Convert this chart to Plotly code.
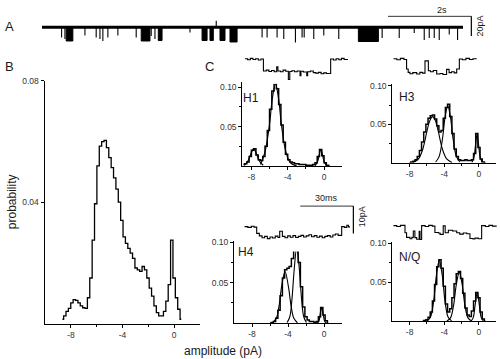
import plotly.graph_objects as go

W, H = 500, 359

# ---------------- DATA ----------------
# Panel A: 10 s recording; current in pA relative to closed level (negative = opening)
a_duration_s = 10.1
a_single_t = [0.47, 0.55, 1.03, 1.30, 1.39, 1.46, 1.58, 1.82, 2.26, 2.62, 2.71, 3.55, 4.18, 5.28, 5.40,
              5.64, 5.80, 6.08, 6.24, 6.29, 6.52, 6.76, 7.12, 8.16, 8.57, 8.93, 9.17, 9.29, 9.41, 9.53,
              9.77, 9.97]
a_single_amp = [-10.5, -12, -8.5, -10.5, -12, -14, -10.5, -8.5, -10.5, -9, -12, -5.5, 6.5, -10.5, -10.5,
                -10.5, -12, -15.5, -10.5, -10.5, -12, -8.5, -12, -11, -11, -6, -13, -11, -11, -13,
                -7.5, -13]
a_burst_start = [0.58, 2.38, 2.79, 3.84, 4.03, 4.27, 4.51, 7.59]
a_burst_end = [0.74, 2.59, 2.88, 3.96, 4.11, 4.39, 4.68, 8.07]
a_burst_amp = [-14, -14, -13.5, -13.5, -13.5, -13.5, -15, -14.5]

# Panel B: amplitude histogram
b_bin_first = -8.65
b_bin_width = 0.184
b_prob = [0.0014, 0.0025, 0.004, 0.005, 0.0068, 0.0079, 0.0076, 0.0068, 0.0058, 0.0052,
          0.005, 0.0085, 0.015, 0.0275, 0.0395, 0.052, 0.0585, 0.060, 0.0604, 0.058,
          0.0547, 0.0514, 0.048, 0.0443, 0.040, 0.034, 0.0286, 0.0264, 0.0248, 0.0232,
          0.0215, 0.0183, 0.0177, 0.0172, 0.0188, 0.0177, 0.015, 0.0117, 0.009, 0.0058,
          0.0036, 0.0025, 0.0025, 0.004, 0.0074, 0.0128, 0.0275, 0.015, 0.0085, 0.0047,
          0.0014]

# Panel C histograms (bin width 0.25 pA)
h1_bin_first = -8.875
h1_prob = [0.002, 0.003, 0.005, 0.012, 0.020, 0.022, 0.014, 0.008, 0.007, 0.012,
           0.025, 0.045, 0.072, 0.095, 0.106, 0.098, 0.078, 0.052, 0.030, 0.015,
           0.008, 0.005, 0.004, 0.003, 0.003, 0.002, 0.002, 0.002, 0.001, 0.001,
           0.001, 0.002, 0.004, 0.012, 0.021, 0.013, 0.004, 0.001, 0.0]
h3_bin_first = -8.0
h3_prob = [0.0, 0.001, 0.002, 0.004, 0.008, 0.016, 0.027, 0.040, 0.050, 0.058,
           0.061, 0.062, 0.057, 0.048, 0.040, 0.042, 0.058, 0.072, 0.076, 0.060,
           0.038, 0.018, 0.008, 0.004, 0.003, 0.003, 0.004, 0.003, 0.003, 0.004,
           0.012, 0.038, 0.020, 0.005, 0.001, 0.0]
h4_bin_first = -6.0
h4_prob = [0.0, 0.001, 0.002, 0.006, 0.016, 0.034, 0.056, 0.066, 0.068, 0.070,
           0.080, 0.092, 0.097, 0.075, 0.045, 0.020, 0.008, 0.004, 0.002, 0.002,
           0.001, 0.002, 0.008, 0.0195, 0.010, 0.003, 0.0]
nq_bin_first = -6.5
nq_prob = [0.0, 0.001, 0.002, 0.005, 0.012, 0.026, 0.047, 0.070, 0.079, 0.068,
           0.045, 0.022, 0.012, 0.016, 0.030, 0.048, 0.061, 0.064, 0.055, 0.036,
           0.017, 0.008, 0.006, 0.013, 0.026, 0.037, 0.030, 0.012, 0.003, 0.0]
c_bin_width = 0.25

# Fitted components
h1_fit_x = [[-8.8, -8.4, -8.0, -7.75, -7.5, -7.1, -6.7],
            [-7.0, -6.5, -6.0, -5.7, -5.35, -5.0, -4.7, -4.2, -3.7, -3.0],
            [-1.0, -0.7, -0.5, -0.35, -0.2, 0.0, 0.3]]
h1_fit_y = [[0.001, 0.006, 0.017, 0.022, 0.017, 0.006, 0.001],
            [0.002, 0.018, 0.053, 0.085, 0.104, 0.085, 0.053, 0.018, 0.004, 0.0],
            [0.0, 0.006, 0.016, 0.021, 0.016, 0.006, 0.0]]
h3_fit_x = [[-7.6, -7.0, -6.5, -6.0, -5.7, -5.35, -5.0, -4.7, -4.2, -3.7, -3.1],
            [-5.0, -4.6, -4.2, -3.9, -3.6, -3.3, -3.0, -2.6, -2.2],
            [-0.8, -0.55, -0.38, -0.22, -0.06, 0.11, 0.36]]
h3_fit_y = [[0.0005, 0.0046, 0.017, 0.041, 0.054, 0.060, 0.054, 0.041, 0.017, 0.0046, 0.0005],
            [0.001, 0.008, 0.032, 0.060, 0.074, 0.060, 0.032, 0.008, 0.001],
            [0.0005, 0.009, 0.025, 0.037, 0.025, 0.009, 0.0005]]
h4_fit_x = [[-5.7, -5.3, -5.0, -4.7, -4.33, -3.95, -3.65, -3.35, -2.95],
            [-4.1, -3.8, -3.55, -3.3, -3.03, -2.75, -2.5, -2.25, -1.95],
            [-0.75, -0.55, -0.4, -0.26, -0.1, 0.05, 0.25]]
h4_fit_y = [[0.0006, 0.006, 0.021, 0.046, 0.064, 0.045, 0.021, 0.006, 0.0006],
            [0.0008, 0.008, 0.031, 0.068, 0.094, 0.068, 0.031, 0.008, 0.0008],
            [0.0002, 0.003, 0.013, 0.019, 0.012, 0.003, 0.0002]]
nq_fit_x = [[-6.0, -5.6, -5.25, -4.9, -4.58, -4.25, -3.9, -3.55, -3.15],
            [-3.7, -3.3, -2.95, -2.6, -2.27, -1.95, -1.6, -1.25, -0.85],
            [-0.9, -0.65, -0.45, -0.2, 0.05, 0.25, 0.5]]
nq_fit_y = [[0.0004, 0.005, 0.024, 0.060, 0.078, 0.060, 0.024, 0.005, 0.0004],
            [0.0003, 0.004, 0.019, 0.048, 0.063, 0.048, 0.019, 0.004, 0.0003],
            [0.0003, 0.005, 0.020, 0.037, 0.020, 0.005, 0.0003]]

# Example sweeps above each histogram (time ms, current pA)
h1_trace_ms = [0, 1.5, 3, 4.5, 6, 7.5, 9, 10.4, 12, 13.5, 15, 16.5, 17.9, 18.6, 20, 21.5, 23, 24.5, 25.3,
               26.5, 28, 29.5, 31.1, 31.6, 33, 34.9, 35.4, 37, 38.6, 40, 41.5, 43, 44.5, 46, 48.4, 50,
               51.5, 53, 54.5, 56, 58.2]
h1_trace_pa = [0.2, -0.2, 0.3, -0.1, 0.2, -0.3, 0.1, -4.3, -4.0, -4.5, -4.1, -4.6, -2.8, -4.3, -4.6, -4.0,
               -4.4, -7.4, -4.5, -4.2, -4.6, -4.3, -6.0, -4.4, -4.7, -6.0, -4.6, -4.3, -4.9, -5.1, -4.8,
               -5.3, -5.0, -5.2, 0.1, -0.3, 0.2, -0.2, 0.3, -0.1, 0.1]
h3_trace_ms = [0, 2, 4, 6, 7.5, 8.4, 9.4, 11, 13.2, 15, 16.5, 17.9, 19.8, 21, 22.6, 24.5, 26.4, 28, 30.1,
               31.5, 32.9, 34.4, 35.8, 37.3, 39, 41, 43, 45, 47.1]
h3_trace_pa = [0.2, -0.2, 0.3, -0.1, -3.6, -4.8, -5.3, -4.9, -5.4, -4.8, -5.1, -0.6, -4.2, -4.6, -4.1,
               -5.4, -5.2, -5.6, -3.7, -4.9, -4.6, -5.0, -3.6, 0.1, -0.2, 0.3, -0.1, 0.2, 0.0]
h4_trace_ms = [0, 2, 4, 5.5, 7, 8.5, 10, 11.5, 13, 14.5, 16, 17.5, 19, 20, 21.5, 23, 24.5, 26, 27.5, 29,
               30.5, 32, 33.5, 35, 36.5, 38, 39.5, 41, 42.5, 44, 45.5, 47, 48.5, 50, 51.5, 53, 55, 56.5,
               57.9, 58.8, 59.7]
h4_trace_pa = [0.1, -0.2, 0.2, -0.1, -2.4, -3.3, -4.0, -3.5, -4.3, -3.7, -4.1, -3.4, -3.9, -1.6, -3.5,
               -4.0, -3.3, -3.8, -3.2, -3.9, -3.5, -3.1, -3.7, -3.3, -2.9, -3.6, -3.2, -3.8, -3.4, -4.0,
               -3.5, -3.2, -3.7, -3.0, -2.6, -3.1, 0.1, -0.2, 0.6, 0.0, 0.1]
nq_trace_ms = [0, 2, 4, 6.6, 7.5, 9.4, 10.5, 11.3, 12.2, 13.2, 14.6, 15.1, 16, 18, 20, 22, 23.5, 25.5,
               26.4, 28.2, 29.3, 31.1, 33.5, 35.8, 37.5, 39.5, 41.5, 43.3, 45, 46.1, 48, 49.9, 52, 54,
               56, 58.4]
nq_trace_pa = [0.1, -0.2, 0.2, -2.5, -4.2, -4.7, -4.2, -1.9, -4.3, -4.9, -2.0, -5.0, 0.1, -0.2, 0.2,
               -0.1, -2.4, -2.6, -3.1, 0.0, -2.5, -1.6, -1.9, -2.5, -3.0, -2.6, -2.9, -4.6, -4.8, -4.5,
               -4.7, 0.1, -0.2, 0.2, -0.1, 0.1]

x_tick_vals = [-8, -4, 0]
x_tick_text = ["-8", "-4", "0"]

# ---------------- LAYOUT HELPERS ----------------
FONT = "Liberation Sans, Arial, sans-serif"


def dom_x(left, right):
    return [left / W, right / W]


def dom_y(top, bottom):
    return [1 - bottom / H, 1 - top / H]


axes = {}
ranges = {}


def add_axes(i, xl, xr, yt, yb, xrng, yrng, visible):
    xs = "xaxis" if i == 1 else f"xaxis{i}"
    ys = "yaxis" if i == 1 else f"yaxis{i}"
    xa = dict(domain=dom_x(xl, xr), range=xrng, anchor="y" if i == 1 else f"y{i}",
              showgrid=False, zeroline=False, fixedrange=True)
    ya = dict(domain=dom_y(yt, yb), range=yrng, anchor="x" if i == 1 else f"x{i}",
              showgrid=False, zeroline=False, fixedrange=True)
    if visible:
        common = dict(showline=True, linecolor="black", linewidth=1, ticks="outside",
                      ticklen=3, tickwidth=1, tickcolor="black",
                      tickfont=dict(family=FONT, size=8.5, color="#333"))
        xa.update(common, tickvals=x_tick_vals, ticktext=x_tick_text,
                  minor=dict(tickvals=[-6, -2], ticks="outside", ticklen=2, tickcolor="black"))
        ya.update(common)
    else:
        xa.update(visible=False)
        ya.update(visible=False)
    axes[xs] = xa
    axes[ys] = ya
    ranges[i] = (xl, xr, yt, yb, xrng, yrng)


def to_px(i, xv, yv):
    xl, xr, yt, yb, xrng, yrng = ranges[i]
    px = xl + (xv - xrng[0]) / (xrng[1] - xrng[0]) * (xr - xl)
    py = yb - (yv - yrng[0]) / (yrng[1] - yrng[0]) * (yb - yt)
    return px, py


# 1: panel A recording
add_axes(1, 42, 463, 14, 40, [0, a_duration_s], [-17.5, 8.5], False)
# 2: panel B histogram
add_axes(2, 45, 200, 77, 323, [-10, 2], [0, 0.08], True)
# 3-6: C histograms
add_axes(3, 242.3, 342.2, 163.3 - 0.107 * 800, 163.3, [-9, 2], [0, 0.107], True)
add_axes(4, 392.3, 496.3, 160 - 0.102 * 780, 160, [-10, 2], [0, 0.102], True)
add_axes(5, 234, 342, 322.7 - 0.102 * 820, 322.7, [-10, 2], [0, 0.102], True)
add_axes(6, 392.3, 496.3, 320.7 - 0.102 * 790, 320.7, [-10, 2], [0, 0.102], True)
# 7-10: example sweeps (1.77 px/ms, 2.77 px/pA)
add_axes(7, 245, 348, 48, 80, [0, 58.2], [-25 / 2.77, 7 / 2.77], False)
add_axes(8, 393.3, 476.7, 48, 80, [0, 47.1], [-25 / 2.77, 7 / 2.77], False)
add_axes(9, 244.3, 350, 218, 250, [0, 59.7], [-25 / 2.77, 7 / 2.77], False)
add_axes(10, 393.3, 496.7, 217, 249, [0, 58.4], [-25 / 2.77, 7 / 2.77], False)

# y tick setup
axes["yaxis2"].update(tickvals=[0.04, 0.08], ticktext=["0.04", "0.08"], linewidth=1.5)
for k in ["yaxis3", "yaxis4", "yaxis5", "yaxis6"]:
    axes[k].update(tickvals=[0.05, 0.10], ticktext=["0.05", "0.10"],
                   minor=dict(tickvals=[0.025, 0.075], ticks="outside", ticklen=2, tickcolor="black"))

fig = go.Figure()


def xy(i):
    return ("x", "y") if i == 1 else (f"x{i}", f"y{i}")


# ---- Panel A ----
xa, ya = xy(1)
fig.add_trace(go.Scatter(x=[0, a_duration_s], y=[0, 0], mode="lines",
                         line=dict(color="black", width=3), xaxis=xa, yaxis=ya, hoverinfo="skip"))
sx, sy = [], []
for t, a in zip(a_single_t, a_single_amp):
    sx += [t, t, None]
    sy += [0, a, None]
fig.add_trace(go.Scatter(x=sx, y=sy, mode="lines", line=dict(color="black", width=1.1),
                         xaxis=xa, yaxis=ya, hoverinfo="skip"))
bx, by = [], []
for s, e, a in zip(a_burst_start, a_burst_end, a_burst_amp):
    bx += [s, s, e, e, s, None]
    by += [0, a, a, 0, 0, None]
fig.add_trace(go.Scatter(x=bx, y=by, mode="lines", fill="toself", fillcolor="black",
                         line=dict(color="black", width=1), xaxis=xa, yaxis=ya, hoverinfo="skip"))

# ---- Panel B ----
b_centers = [b_bin_first + b_bin_width * k for k in range(len(b_prob))]
xa, ya = xy(2)
fig.add_trace(go.Scatter(x=b_centers, y=b_prob, mode="lines",
                         line=dict(color="black", width=1.3, shape="hvh"),
                         xaxis=xa, yaxis=ya, hoverinfo="skip"))

# ---- Panel C histograms ----
for i, first, prob, fx, fy in [(3, h1_bin_first, h1_prob, h1_fit_x, h1_fit_y),
                               (4, h3_bin_first, h3_prob, h3_fit_x, h3_fit_y),
                               (5, h4_bin_first, h4_prob, h4_fit_x, h4_fit_y),
                               (6, nq_bin_first, nq_prob, nq_fit_x, nq_fit_y)]:
    xa, ya = xy(i)
    centers = [first + c_bin_width * k for k in range(len(prob))]
    fig.add_trace(go.Scatter(x=centers, y=prob, mode="lines",
                             line=dict(color="black", width=1.5, shape="hvh"),
                             xaxis=xa, yaxis=ya, hoverinfo="skip"))
    for cx, cy in zip(fx, fy):
        fig.add_trace(go.Scatter(x=cx, y=cy, mode="lines",
                                 line=dict(color="black", width=1.1, shape="spline", smoothing=1.0),
                                 xaxis=xa, yaxis=ya, hoverinfo="skip"))

# ---- Panel C sweeps ----
for i, tms, cur in [(7, h1_trace_ms, h1_trace_pa), (8, h3_trace_ms, h3_trace_pa),
                    (9, h4_trace_ms, h4_trace_pa), (10, nq_trace_ms, nq_trace_pa)]:
    xa, ya = xy(i)
    fig.add_trace(go.Scatter(x=tms, y=cur, mode="lines",
                             line=dict(color="black", width=1.1, shape="hv"),
                             xaxis=xa, yaxis=ya, hoverinfo="skip"))

# ---- scale bars (placed through the sweep axes' scales) ----
shapes = []


def seg(p0, p1, w=1):
    shapes.append(dict(type="line", xref="paper", yref="paper",
                       x0=p0[0] / W, y0=1 - p0[1] / H, x1=p1[0] / W, y1=1 - p1[1] / H,
                       line=dict(color="black", width=w)))


# A: 2 s, 20 pA
a_bar_end_s, a_bar_top_pa = 10.3, 11.0
p_end = to_px(1, a_bar_end_s, a_bar_top_pa)
p_start = to_px(1, a_bar_end_s - 2.0, a_bar_top_pa)
p_bot = to_px(1, a_bar_end_s, a_bar_top_pa - 20.0)
seg(p_start, p_end, 0.8)
seg(p_end, p_bot, 1.2)
# C: 30 ms, 10 pA
c_bar_end_ms, c_bar_top_pa = 61.6, 7.6
q_end = to_px(9, c_bar_end_ms, c_bar_top_pa)
q_start = to_px(9, c_bar_end_ms - 30.0, c_bar_top_pa)
q_bot = to_px(9, c_bar_end_ms, c_bar_top_pa - 10.0)
seg(q_start, q_end, 0.8)
seg(q_end, q_bot, 1.2)

# ---- annotations ----
ann = []


def text(s, x, y, size, angle=0, color="#1a1a1a"):
    ann.append(dict(text=s, x=x / W, y=1 - y / H, xref="paper", yref="paper", showarrow=False,
                    xanchor="center", yanchor="middle", textangle=angle,
                    font=dict(family=FONT, size=size, color=color)))


text("A", 9, 22, 13)
text("B", 9, 62, 13)
text("C", 209, 62, 13)
text("H1", 251, 94, 12)
text("H3", 407, 93, 12)
text("H4", 246, 250, 12)
text("N/Q", 409, 256, 12)
text("probability", 12, 200, 12, -90)
text("amplitude (pA)", 223, 351, 12)
text("2s", (p_start[0] + p_end[0]) / 2 + 12, 5, 9)
text("20pA", p_end[0] + 9, (p_end[1] + p_bot[1]) / 2, 9, -90)
text("30ms", (q_start[0] + q_end[0]) / 2, q_end[1] - 8, 9)
text("10pA", q_end[0] + 8, (q_end[1] + q_bot[1]) / 2 - 3, 9, -90)

fig.update_layout(width=W, height=H, margin=dict(l=0, r=0, t=0, b=0),
                  paper_bgcolor="white", plot_bgcolor="white", showlegend=False,
                  hovermode=False, shapes=shapes, annotations=ann, **axes)

fig.write_html("out.html", config={"displayModeBar": False, "staticPlot": True},
               post_script="document.body.style.margin='0';document.body.style.overflow='hidden';")
